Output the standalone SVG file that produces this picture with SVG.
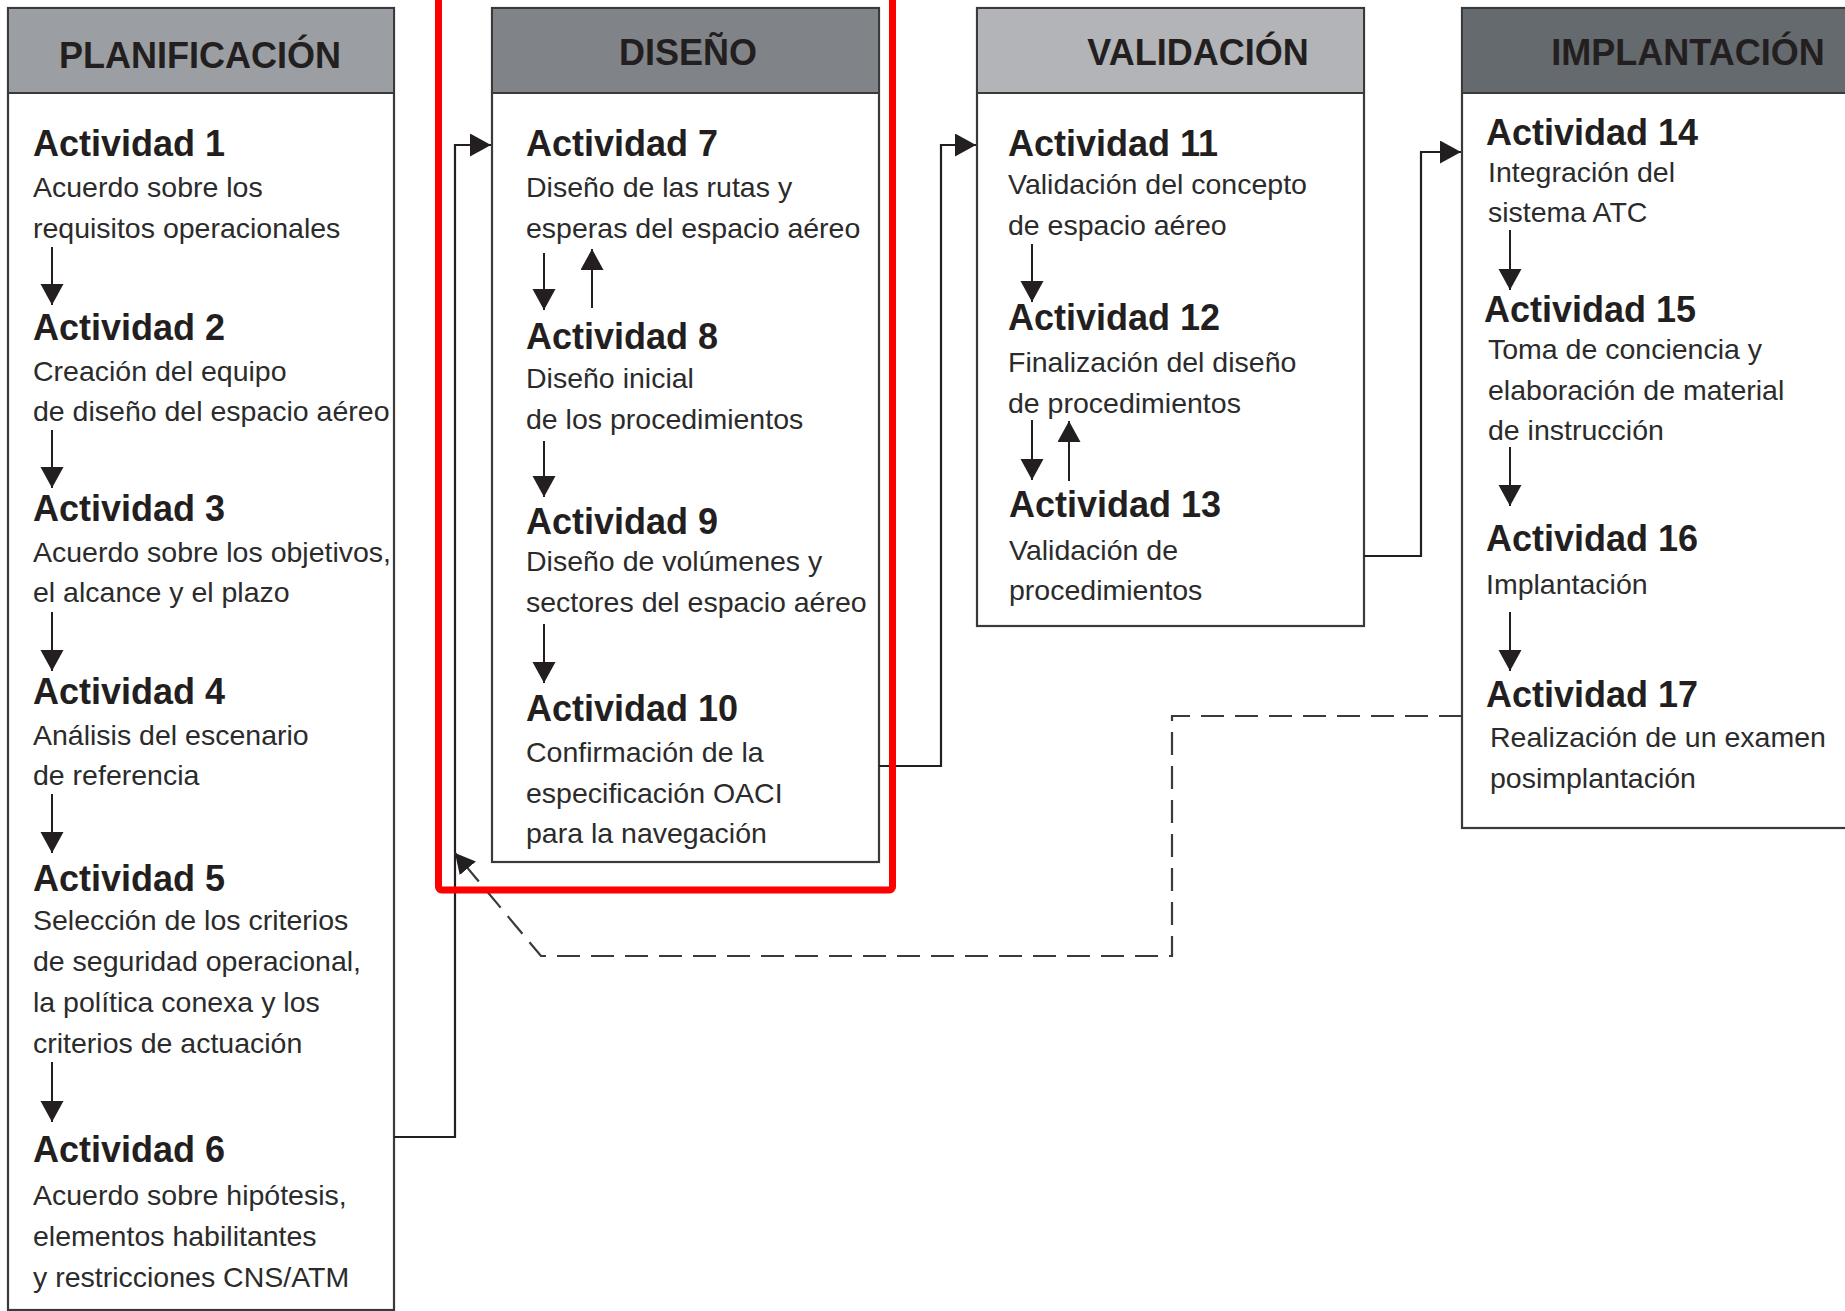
<svg xmlns="http://www.w3.org/2000/svg" width="1845" height="1311" viewBox="0 0 1845 1311">
<style>
.box{fill:#fff;stroke:#3a3a3a;stroke-width:2.2}
.hdr{stroke:#3a3a3a;stroke-width:2}
.ht{font-family:"Liberation Sans",Arial,sans-serif;font-weight:bold;font-size:36px;fill:#231f20;text-anchor:middle}
.at{font-family:"Liberation Sans",Arial,sans-serif;font-weight:bold;font-size:36px;fill:#231f20}
.bt{font-family:"Liberation Sans",Arial,sans-serif;font-size:28.5px;fill:#2b2b2b}
.ar{stroke:#231f20;stroke-width:2;fill:none}
.cn{stroke:#231f20;stroke-width:2.2;fill:none}
.dash{stroke:#3a3a3a;stroke-width:2.2;fill:none;stroke-dasharray:23 11}
</style>
<defs>
<marker id="ah" markerUnits="userSpaceOnUse" markerWidth="24" markerHeight="24" refX="21" refY="11.5" orient="auto">
<path d="M0,0 L21,11.5 L0,23 Z" fill="#231f20" stroke="none"/>
</marker>
<marker id="ah2" markerUnits="userSpaceOnUse" markerWidth="24" markerHeight="24" refX="20" refY="10.5" orient="auto">
<path d="M0,0 L20,10.5 L0,21 Z" fill="#231f20" stroke="none"/>
</marker>
</defs>
<rect width="1845" height="1311" fill="#fff"/>

<g id="planificacion">
<rect class="box" x="8" y="8" width="386" height="1302"/>
<rect class="hdr" x="8" y="8" width="386" height="85" fill="#9b9ea2"/>
<text class="ht" x="200" y="68">PLANIFICACIÓN</text>
<text class="at" x="33" y="156">Actividad 1</text>
<text class="bt" x="33" y="197">Acuerdo sobre los</text>
<text class="bt" x="33" y="238">requisitos operacionales</text>
<line class="ar" x1="52" y1="247" x2="52" y2="305" marker-end="url(#ah)"/>
<text class="at" x="33" y="340">Actividad 2</text>
<text class="bt" x="33" y="381">Creación del equipo</text>
<text class="bt" x="33" y="421">de diseño del espacio aéreo</text>
<line class="ar" x1="52" y1="430" x2="52" y2="488" marker-end="url(#ah)"/>
<text class="at" x="33" y="521">Actividad 3</text>
<text class="bt" x="33" y="562">Acuerdo sobre los objetivos,</text>
<text class="bt" x="33" y="602">el alcance y el plazo</text>
<line class="ar" x1="52" y1="612" x2="52" y2="671" marker-end="url(#ah)"/>
<text class="at" x="33" y="704">Actividad 4</text>
<text class="bt" x="33" y="745">Análisis del escenario</text>
<text class="bt" x="33" y="785">de referencia</text>
<line class="ar" x1="52" y1="794" x2="52" y2="853" marker-end="url(#ah)"/>
<text class="at" x="33" y="891">Actividad 5</text>
<text class="bt" x="33" y="930">Selección de los criterios</text>
<text class="bt" x="33" y="971">de seguridad operacional,</text>
<text class="bt" x="33" y="1012">la política conexa y los</text>
<text class="bt" x="33" y="1053">criterios de actuación</text>
<line class="ar" x1="52" y1="1062" x2="52" y2="1122" marker-end="url(#ah)"/>
<text class="at" x="33" y="1162">Actividad 6</text>
<text class="bt" x="33" y="1205">Acuerdo sobre hipótesis,</text>
<text class="bt" x="33" y="1246">elementos habilitantes</text>
<text class="bt" x="33" y="1287">y restricciones CNS/ATM</text>
</g>

<g id="diseno">
<rect class="box" x="492" y="8" width="387" height="854"/>
<rect class="hdr" x="492" y="8" width="387" height="85" fill="#808488"/>
<text class="ht" x="688" y="65">DISEÑO</text>
<text class="at" x="526" y="156">Actividad 7</text>
<text class="bt" x="526" y="197">Diseño de las rutas y</text>
<text class="bt" x="526" y="238">esperas del espacio aéreo</text>
<line class="ar" x1="544" y1="253" x2="544" y2="310" marker-end="url(#ah)"/>
<line class="ar" x1="592" y1="308" x2="592" y2="249" marker-end="url(#ah)"/>
<text class="at" x="526" y="349">Actividad 8</text>
<text class="bt" x="526" y="388">Diseño inicial</text>
<text class="bt" x="526" y="429">de los procedimientos</text>
<line class="ar" x1="544" y1="441" x2="544" y2="497" marker-end="url(#ah)"/>
<text class="at" x="526" y="534">Actividad 9</text>
<text class="bt" x="526" y="571">Diseño de volúmenes y</text>
<text class="bt" x="526" y="612">sectores del espacio aéreo</text>
<line class="ar" x1="544" y1="624" x2="544" y2="683" marker-end="url(#ah)"/>
<text class="at" x="526" y="721">Actividad 10</text>
<text class="bt" x="526" y="762">Confirmación de la</text>
<text class="bt" x="526" y="803">especificación OACI</text>
<text class="bt" x="526" y="843">para la navegación</text>
</g>

<g id="validacion">
<rect class="box" x="977" y="8" width="387" height="618"/>
<rect class="hdr" x="977" y="8" width="387" height="85" fill="#b2b4b7"/>
<text class="ht" x="1198" y="65">VALIDACIÓN</text>
<text class="at" x="1008" y="156">Actividad 11</text>
<text class="bt" x="1008" y="194">Validación del concepto</text>
<text class="bt" x="1008" y="235">de espacio aéreo</text>
<line class="ar" x1="1032" y1="244" x2="1032" y2="302" marker-end="url(#ah)"/>
<text class="at" x="1008" y="330">Actividad 12</text>
<text class="bt" x="1008" y="372">Finalización del diseño</text>
<text class="bt" x="1008" y="413">de procedimientos</text>
<line class="ar" x1="1032" y1="420" x2="1032" y2="480" marker-end="url(#ah)"/>
<line class="ar" x1="1069" y1="481" x2="1069" y2="421" marker-end="url(#ah)"/>
<text class="at" x="1009" y="517">Actividad 13</text>
<text class="bt" x="1009" y="560">Validación de</text>
<text class="bt" x="1009" y="600">procedimientos</text>
</g>

<g id="implantacion">
<rect class="box" x="1462" y="8" width="400" height="820"/>
<rect class="hdr" x="1462" y="8" width="400" height="85" fill="#646a6d"/>
<text class="ht" x="1688" y="65">IMPLANTACIÓN</text>
<text class="at" x="1486" y="145">Actividad 14</text>
<text class="bt" x="1488" y="182">Integración del</text>
<text class="bt" x="1488" y="222">sistema ATC</text>
<line class="ar" x1="1510" y1="230" x2="1510" y2="290" marker-end="url(#ah)"/>
<text class="at" x="1484" y="322">Actividad 15</text>
<text class="bt" x="1488" y="359">Toma de conciencia y</text>
<text class="bt" x="1488" y="400">elaboración de material</text>
<text class="bt" x="1488" y="440">de instrucción</text>
<line class="ar" x1="1510" y1="447" x2="1510" y2="506" marker-end="url(#ah)"/>
<text class="at" x="1486" y="551">Actividad 16</text>
<text class="bt" x="1486" y="594">Implantación</text>
<line class="ar" x1="1510" y1="612" x2="1510" y2="671" marker-end="url(#ah)"/>
<text class="at" x="1486" y="707">Actividad 17</text>
<text class="bt" x="1490" y="747">Realización de un examen</text>
<text class="bt" x="1490" y="788">posimplantación</text>
</g>

<g id="connectors">
<path class="cn" d="M394,1137 H455 V145 H491" marker-end="url(#ah)"/>
<path class="cn" d="M879,766 H941 V145 H976" marker-end="url(#ah)"/>
<path class="cn" d="M1364,556 H1421 V152 H1461" marker-end="url(#ah)"/>
<path class="dash" d="M1462,716 H1172 V956 H541 L455,853" marker-end="url(#ah2)"/>
</g>

<rect id="highlight" x="438.5" y="-20" width="454" height="910" rx="3" fill="none" stroke="#ff0000" stroke-width="7"/>
</svg>
